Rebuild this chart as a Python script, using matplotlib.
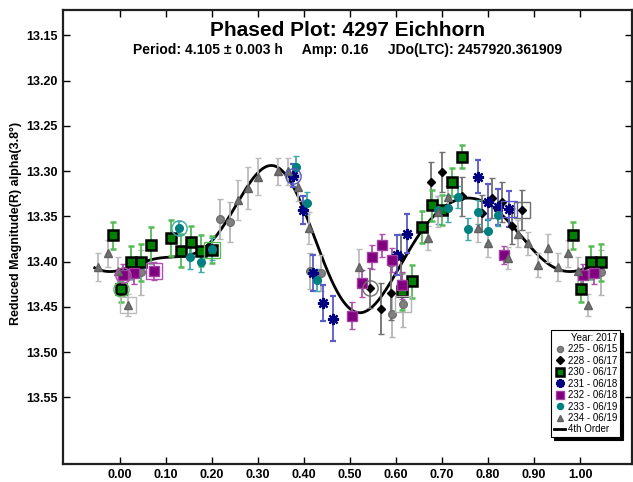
import numpy as np
import matplotlib
matplotlib.use("Agg")
import matplotlib.pyplot as plt
from matplotlib.lines import Line2D

plt.rcParams['font.family'] = ['Liberation Sans', 'DejaVu Sans']

# ---- data (phase 0..1, reduced magnitude, 1-sigma) ----
ph_225 = [0.046, 0.217, 0.239, 0.413, 0.437, 0.591, 0.615]
mag_225 = [13.412, 13.353, 13.356, 13.410, 13.413, 13.458, 13.447]
err_225 = [0.025, 0.022, 0.022, 0.020, 0.020, 0.025, 0.025]

ph_228 = [0.543, 0.567, 0.589, 0.611, 0.676, 0.700, 0.743, 0.787, 0.809, 0.830, 0.852, 0.874]
mag_228 = [13.429, 13.452, 13.435, 13.395, 13.312, 13.301, 13.328, 13.346, 13.330, 13.334, 13.361, 13.343]
err_228 = [0.022, 0.028, 0.030, 0.025, 0.022, 0.022, 0.022, 0.020, 0.022, 0.022, 0.020, 0.022]

ph_230 = [0.002, 0.024, 0.046, 0.067, 0.111, 0.133, 0.154, 0.176, 0.200,
          0.613, 0.635, 0.657, 0.678, 0.700, 0.722, 0.743, 0.985]
mag_230 = [13.430, 13.401, 13.401, 13.382, 13.374, 13.388, 13.378, 13.388, 13.387,
           13.433, 13.422, 13.362, 13.338, 13.343, 13.312, 13.284, 13.371]
err_230 = [0.015, 0.018, 0.020, 0.020, 0.020, 0.018, 0.017, 0.017, 0.015,
           0.020, 0.018, 0.018, 0.017, 0.017, 0.015, 0.013, 0.015]

ph_231 = [0.376, 0.398, 0.420, 0.441, 0.463, 0.602, 0.624, 0.778, 0.800, 0.822, 0.846]
mag_231 = [13.305, 13.343, 13.413, 13.446, 13.463, 13.393, 13.369, 13.306, 13.334, 13.340, 13.342]
err_231 = [0.013, 0.015, 0.020, 0.020, 0.025, 0.022, 0.022, 0.018, 0.020, 0.020, 0.020]

ph_232 = [0.007, 0.030, 0.074, 0.504, 0.526, 0.548, 0.570, 0.591, 0.613, 0.835]
mag_232 = [13.415, 13.413, 13.410, 13.460, 13.424, 13.395, 13.382, 13.398, 13.426, 13.393]
err_232 = [0.012, 0.012, 0.010, 0.015, 0.015, 0.013, 0.013, 0.013, 0.015, 0.010]

ph_233 = [0.128, 0.152, 0.176, 0.200, 0.383, 0.407, 0.428,
          0.691, 0.713, 0.735, 0.757, 0.778, 0.800, 0.822]
mag_233 = [13.363, 13.395, 13.401, 13.386, 13.295, 13.335, 13.420,
           13.343, 13.341, 13.329, 13.364, 13.345, 13.366, 13.348]
err_233 = [0.008, 0.013, 0.010, 0.012, 0.012, 0.012, 0.012,
           0.015, 0.015, 0.012, 0.012, 0.013, 0.013, 0.013]

ph_234 = [0.017, 0.257, 0.278, 0.300, 0.343, 0.365, 0.387, 0.411, 0.520, 0.670, 0.691,
          0.713, 0.778, 0.800, 0.843, 0.865, 0.887, 0.909, 0.930, 0.952, 0.974, 0.996]
mag_234 = [13.448, 13.332, 13.319, 13.306, 13.300, 13.300, 13.318, 13.363, 13.406, 13.374, 13.345,
           13.329, 13.363, 13.380, 13.396, 13.369, 13.380, 13.404, 13.385, 13.406, 13.391, 13.410]
err_234 = [0.012, 0.022, 0.023, 0.020, 0.015, 0.015, 0.015, 0.018, 0.020, 0.013, 0.017,
           0.013, 0.015, 0.015, 0.012, 0.015, 0.013, 0.013, 0.015, 0.015, 0.015, 0.015]

# points of the fitted light curve
curve_ph = [0.00, 0.05, 0.10, 0.15, 0.18, 0.20, 0.22, 0.25, 0.28, 0.30, 0.32, 0.35,
            0.38, 0.40, 0.42, 0.45, 0.48, 0.51, 0.54, 0.57, 0.60, 0.63, 0.66, 0.69,
            0.72, 0.75, 0.78, 0.81, 0.84, 0.87, 0.90, 0.93, 0.96, 0.99]
curve_mag = [13.408, 13.399, 13.397, 13.393, 13.386, 13.378, 13.365, 13.336, 13.312, 13.302, 13.298, 13.303,
             13.320, 13.339, 13.366, 13.411, 13.443, 13.456, 13.451, 13.439, 13.413, 13.384, 13.362, 13.346,
             13.337, 13.331, 13.331, 13.338, 13.352, 13.371, 13.390, 13.403, 13.409, 13.412]

xticks = [0.0, 0.1, 0.2, 0.3, 0.4, 0.5, 0.6, 0.7, 0.8, 0.9, 1.0]
yticks = [13.15, 13.20, 13.25, 13.30, 13.35, 13.40, 13.45, 13.50, 13.55]

# label, phases, mags, errs, marker style, errorbar colour, ring index, box index
sessions = [
    ("225 - 06/15", ph_225, mag_225, err_225,
     dict(marker='o', mfc='#808080', mec='#707070', ms=5.5), '#b4b4b4', None, 6),
    ("228 - 06/17", ph_228, mag_228, err_228,
     dict(marker='D', mfc='black', mec='black', ms=4.5), '#707070', 0, 11),
    ("230 - 06/17", ph_230, mag_230, err_230,
     dict(marker='s', mfc='#008000', mec='black', ms=6.5, mew=1.8), '#55bb55', 0, 8),
    ("231 - 06/18", ph_231, mag_231, err_231,
     dict(marker=(8, 2, 0), mfc='#000080', mec='#000080', ms=8, mew=1.6), '#5a5ac8', 0, 10),
    ("232 - 06/18", ph_232, mag_232, err_232,
     dict(marker='s', mfc='#800080', mec='#a040a0', ms=6.5), '#b050b0', 0, 2),
    ("233 - 06/19", ph_233, mag_233, err_233,
     dict(marker='o', mfc='#008080', mec='#008080', ms=5.5), '#40a8a8', 0, None),
    ("234 - 06/19", ph_234, mag_234, err_234,
     dict(marker='^', mfc='#707070', mec='#606060', ms=6), '#bcbcbc', None, 0),
]


def wrap(ph, mag, err, lo=-0.05, hi=1.05):
    ph, mag, err = np.asarray(ph), np.asarray(mag), np.asarray(err)
    p = np.concatenate([ph, ph - 1, ph + 1])
    m = np.concatenate([mag, mag, mag])
    e = np.concatenate([err, err, err])
    keep = (p >= lo) & (p <= hi)
    return p[keep], m[keep], e[keep]


def fourier_fit(ph, mag, order=4):
    ph = np.asarray(ph)
    cols = [np.ones_like(ph)]
    for k in range(1, order + 1):
        cols += [np.cos(2 * np.pi * k * ph), np.sin(2 * np.pi * k * ph)]
    coef, *_ = np.linalg.lstsq(np.column_stack(cols), np.asarray(mag), rcond=None)

    def model(x):
        out = np.full_like(x, coef[0])
        for k in range(1, order + 1):
            out += coef[2 * k - 1] * np.cos(2 * np.pi * k * x) + coef[2 * k] * np.sin(2 * np.pi * k * x)
        return out
    return model


fig = plt.figure(figsize=(6.33, 4.82), dpi=100)
ax = fig.add_axes([0.0995, 0.037, 0.899, 0.942])

handles = []
for label, ph, mag, err, style, ecol, ring, box in sessions:
    p, m, e = wrap(ph, mag, err)
    ax.errorbar(p, m, yerr=e, linestyle='none', ecolor=ecol, elinewidth=1.3,
                capsize=2.5, capthick=1.0, zorder=3, **style)
    if ring is not None:
        ax.plot(ph[ring], mag[ring], linestyle='none', marker='o', ms=11, mfc='none',
                mec=ecol, mew=1.0, zorder=4)
    if box is not None:
        ax.plot(ph[box], mag[box], linestyle='none', marker='s', ms=11, mfc='none',
                mec=ecol, mew=1.0, zorder=4)
    hstyle = dict(style)
    hstyle['ms'] = hstyle['ms'] * 0.8
    handles.append(Line2D([], [], linestyle='none', label=label, **hstyle))

model = fourier_fit(curve_ph, curve_mag)
xs = np.linspace(-0.055, 1.05, 400)
ax.plot(xs, model(xs), color='black', lw=2.0, zorder=2)
handles.append(Line2D([], [], color='black', lw=2.0, label='4th Order'))

ax.set_xlim(-0.124, 1.113)
ax.set_ylim(13.624, 13.122)
ax.set_xticks(xticks)
ax.set_xticklabels([f"{t:.2f}" for t in xticks])
ax.set_yticks(yticks)
ax.set_yticklabels([f"{t:.2f}" for t in yticks])
ax.tick_params(direction='in', length=5, width=1, top=True, right=True, labelsize=9)
for lab in ax.get_xticklabels() + ax.get_yticklabels():
    lab.set_fontweight('bold')
for s in ax.spines.values():
    s.set_linewidth(1.6)
    s.set_color('#202020')

ax.set_ylabel("Reduced Magnitude(R) alpha(3.8\u00b0)", fontsize=9, fontweight='bold')
ax.yaxis.set_label_coords(-0.072, 0.53)

ax.text(0.5, 0.955, "Phased Plot: 4297 Eichhorn", transform=ax.transAxes,
        ha='center', va='center', fontsize=15, fontweight='bold')
ax.text(0.5, 0.912, "Period: 4.105 \u00b1 0.003 h     Amp: 0.16     JDo(LTC): 2457920.361909",
        transform=ax.transAxes, ha='center', va='center', fontsize=10, fontweight='bold')

leg = ax.legend(handles=handles, title="Year: 2017", loc='lower right',
                bbox_to_anchor=(0.979, 0.059), fontsize=7, title_fontsize=7,
                frameon=True, fancybox=False, edgecolor='black', framealpha=1,
                shadow={'color': 'black', 'alpha': 1}, borderpad=0.3,
                labelspacing=0.15, handlelength=1.1, handletextpad=0.3,
                borderaxespad=0, alignment='right')
leg.get_frame().set_linewidth(0.8)

fig.savefig("out.png", dpi=100)
